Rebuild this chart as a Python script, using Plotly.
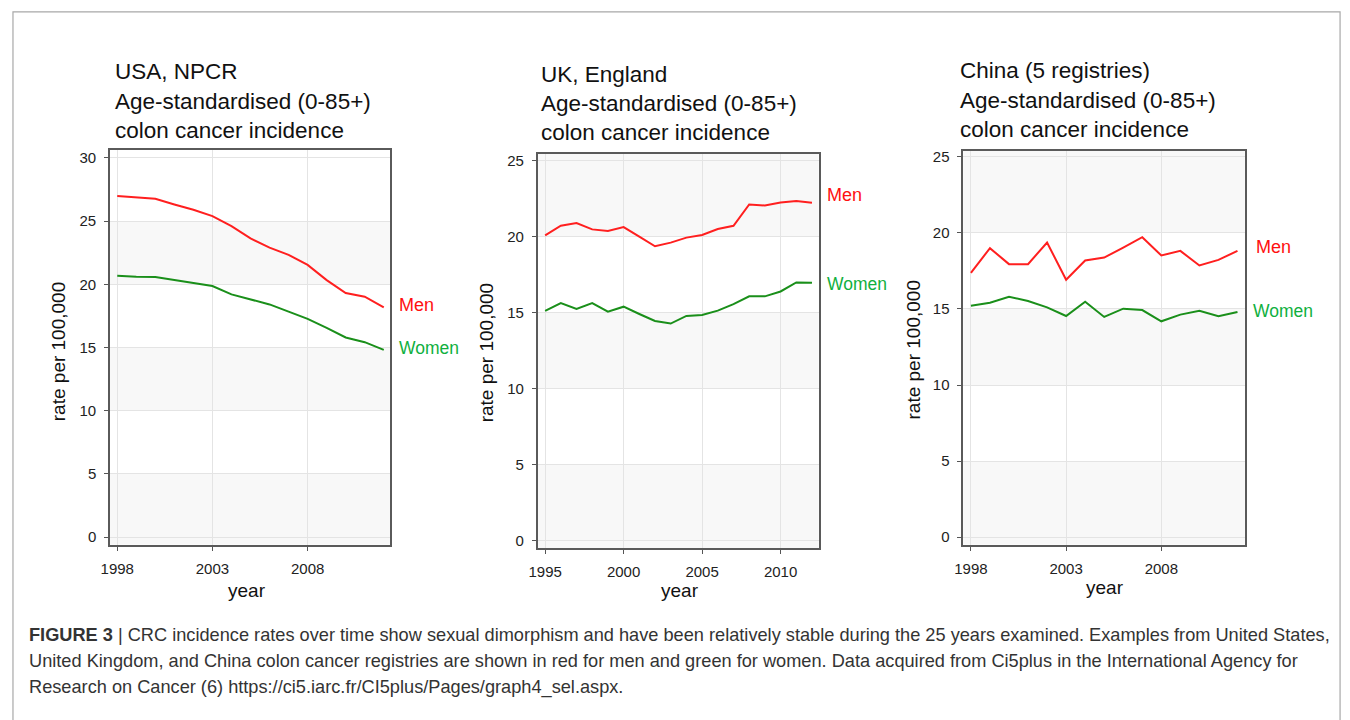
import plotly.graph_objects as go

# ---- data: age-standardised colon cancer incidence, rate per 100,000 ----
usa_years = list(range(1998, 2013))
usa_men = [26.98, 26.87, 26.77, 26.32, 25.90, 25.40, 24.61, 23.64, 22.90, 22.33, 21.54, 20.33, 19.31, 19.02, 18.18]
usa_women = [20.67, 20.59, 20.57, 20.33, 20.12, 19.86, 19.20, 18.78, 18.41, 17.84, 17.26, 16.55, 15.79, 15.42, 14.81]

uk_years = list(range(1995, 2013))
uk_men = [20.07, 20.70, 20.88, 20.46, 20.35, 20.61, 19.98, 19.35, 19.59, 19.92, 20.09, 20.48, 20.70, 22.10, 22.03, 22.23, 22.32, 22.21]
uk_women = [15.10, 15.62, 15.23, 15.62, 15.05, 15.38, 14.90, 14.44, 14.27, 14.77, 14.83, 15.12, 15.55, 16.06, 16.06, 16.38, 16.97, 16.95]

china_years = list(range(1998, 2013))
china_men = [17.38, 19.00, 17.95, 17.95, 19.37, 16.92, 18.19, 18.38, 19.04, 19.72, 18.52, 18.82, 17.86, 18.23, 18.82]
china_women = [15.22, 15.41, 15.81, 15.52, 15.11, 14.54, 15.48, 14.48, 15.02, 14.93, 14.19, 14.63, 14.89, 14.52, 14.80]

panel_titles = [
    ["USA, NPCR", "Age-standardised (0-85+)", "colon cancer incidence"],
    ["UK, England", "Age-standardised (0-85+)", "colon cancer incidence"],
    ["China (5 registries)", "Age-standardised (0-85+)", "colon cancer incidence"],
]
x_ticks = [[1998, 2003, 2008], [1995, 2000, 2005, 2010], [1998, 2003, 2008]]
y_ticks = [[0, 5, 10, 15, 20, 25, 30], [0, 5, 10, 15, 20, 25], [0, 5, 10, 15, 20, 25]]
series_names = ["Men", "Women"]

caption_lines = [
    "<b>FIGURE 3</b> | CRC incidence rates over time show sexual dimorphism and have been relatively stable during the 25 years examined. Examples from United States,",
    "United Kingdom, and China colon cancer registries are shown in red for men and green for women. Data acquired from Ci5plus in the International Agency for",
    "Research on Cancer (6) https://ci5.iarc.fr/CI5plus/Pages/graph4_sel.aspx.",
]

# ---- layout geometry (pixels in a 1350 x 720 page) ----
W, H = 1350, 720
PAD = 3  # inner padding plotly puts around annotation text


def px(x):
    return x / W


def py(y):
    return 1 - y / H


FONT = "Liberation Sans, Arial, Helvetica, sans-serif"
MEN_LINE = "#ff1f1f"
WOMEN_LINE = "#1a8f1a"
MEN_TEXT = "#ff1010"
WOMEN_TEXT = "#10b040"
BAND = "#f8f8f8"
GRID = "#e4e4e4"

panels = [
    dict(years=usa_years, men=usa_men, women=usa_women,
         frame=(101.7, 384.0, 149.0, 545.0), xr=[1997.62, 2012.35], yr=[-0.61, 30.6],
         title_x=108, title_y=[70, 99.5, 129], ytitle=(50, 351), xtitle=(240, 591),
         men_lab=(394, 304), women_lab=(394, 347.5), band_top=25),
    dict(years=uk_years, men=uk_men, women=uk_women,
         frame=(532.3, 815.0, 152.7, 548.3), xr=[1994.53, 2012.42], yr=[-0.48, 25.41],
         title_x=537, title_y=[72.5, 102, 131.5], ytitle=(481, 352), xtitle=(675, 591),
         men_lab=(824, 193.5), women_lab=(824, 283.5), band_top=None),
    dict(years=china_years, men=china_men, women=china_women,
         frame=(960.7, 1244.0, 149.3, 545.0), xr=[1997.6, 2012.38], yr=[-0.5, 25.41],
         title_x=958, title_y=[69, 98.5, 128], ytitle=(911, 349), xtitle=(1103, 588),
         men_lab=(1256, 246.5), women_lab=(1253, 310.5), band_top=None),
]

fig = go.Figure()
layout = dict(
    width=W, height=H,
    margin=dict(l=0, r=0, t=0, b=0),
    paper_bgcolor="white", plot_bgcolor="white",
    showlegend=False,
    font=dict(family=FONT, color="#222222"),
)
shapes = []
annotations = []

for i, p in enumerate(panels):
    k = "" if i == 0 else str(i + 1)
    xa, ya = "x" + k, "y" + k
    left, right, top, bottom = p["frame"]

    fig.add_trace(go.Scatter(x=p["years"], y=p["men"], mode="lines", name=series_names[0],
                             line=dict(color=MEN_LINE, width=2), xaxis=xa, yaxis=ya))
    fig.add_trace(go.Scatter(x=p["years"], y=p["women"], mode="lines", name=series_names[1],
                             line=dict(color=WOMEN_LINE, width=2), xaxis=xa, yaxis=ya))

    axis_common = dict(
        ticks="outside", ticklen=4, tickwidth=1, tickcolor="#555555", ticklabelstandoff=5,
        showgrid=True, gridcolor=GRID, gridwidth=1, zeroline=False,
        showline=True, linecolor="#5a5a5a", linewidth=1.6, mirror=True,
        tickfont=dict(size=15, color="#222222", family=FONT), tickmode="array",
    )
    layout["xaxis" + k] = dict(domain=[px(left), px(right)], anchor=ya, range=p["xr"],
                               tickvals=x_ticks[i], **axis_common)
    layout["yaxis" + k] = dict(domain=[py(bottom), py(top)], anchor=xa, range=p["yr"],
                               tickvals=y_ticks[i], **axis_common)

    # alternating light bands behind the grid
    top_band = p["band_top"] if p["band_top"] is not None else p["yr"][1]
    for y0, y1 in [(p["yr"][0], 5), (10, 15), (20, top_band)]:
        shapes.append(dict(type="rect", xref=xa + " domain", yref=ya, x0=0, x1=1, y0=y0, y1=y1,
                           fillcolor=BAND, line=dict(width=0), layer="below"))

    # three-line panel heading
    for line, ty in zip(panel_titles[i], p["title_y"]):
        annotations.append(dict(text=line, x=px(p["title_x"] - PAD), y=py(ty), xref="paper", yref="paper",
                                xanchor="left", yanchor="middle", showarrow=False,
                                font=dict(size=22.5, color="#111111", family=FONT)))

    annotations.append(dict(text="rate per 100,000", x=px(p["ytitle"][0]), y=py(p["ytitle"][1]),
                            xref="paper", yref="paper", textangle=-90, showarrow=False,
                            xanchor="center", yanchor="middle",
                            font=dict(size=19, color="#111111", family=FONT)))
    annotations.append(dict(text="year", x=px(p["xtitle"][0]), y=py(p["xtitle"][1]),
                            xref="paper", yref="paper", showarrow=False,
                            xanchor="center", yanchor="middle",
                            font=dict(size=19, color="#111111", family=FONT)))

    annotations.append(dict(text=series_names[0], x=px(p["men_lab"][0] - PAD), y=py(p["men_lab"][1]),
                            xref="paper", yref="paper", showarrow=False,
                            xanchor="left", yanchor="middle",
                            font=dict(size=18, color=MEN_TEXT, family=FONT)))
    annotations.append(dict(text=series_names[1], x=px(p["women_lab"][0] - PAD), y=py(p["women_lab"][1]),
                            xref="paper", yref="paper", showarrow=False,
                            xanchor="left", yanchor="middle",
                            font=dict(size=17.5, color=WOMEN_TEXT, family=FONT)))

# caption below the panels
for line, cy in zip(caption_lines, [636, 662, 688]):
    annotations.append(dict(text=line, x=px(21 - PAD), y=py(cy), xref="paper", yref="paper",
                            xanchor="left", yanchor="middle", showarrow=False,
                            font=dict(size=18.2, color="#333333", family=FONT)))

# thin frame around the whole figure
shapes.append(dict(type="rect", xref="paper", yref="paper", x0=px(4), x1=px(1340), y0=-0.2, y1=py(10),
                   line=dict(color="#a8a8a8", width=1.2), fillcolor="rgba(0,0,0,0)", layer="above"))

layout["shapes"] = shapes
layout["annotations"] = annotations
fig.update_layout(**layout)

# page without the default body margin so the figure fills the window exactly
fig.write_html("out.html",
               post_script="document.body.style.margin='0';document.documentElement.style.overflow='hidden';")
